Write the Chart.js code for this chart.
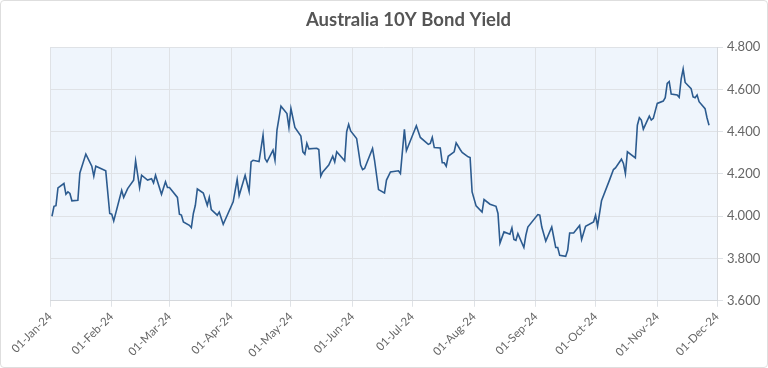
<!DOCTYPE html>
<html>
<head>
<meta charset="utf-8">
<title>Australia 10Y Bond Yield</title>
<script src="https://cdn.jsdelivr.net/npm/chart.js@4.4.1/dist/chart.umd.min.js"></script>
<style>
    html, body { margin: 0; padding: 0; background: #ffffff; }
    .frame {
        position: relative;
        width: 766px;
        height: 366px;
        border: 1px solid #dedede;
        border-radius: 4px;
    }
</style>
</head>
<body>
<div class="frame"><canvas id="yieldChart"></canvas></div>
<script>
// Daily closes
const dates = [
    '2024-01-02', '2024-01-03', '2024-01-04', '2024-01-05', '2024-01-08', '2024-01-09', '2024-01-10', '2024-01-11',
    '2024-01-12', '2024-01-15', '2024-01-16', '2024-01-19', '2024-01-22', '2024-01-23', '2024-01-24', '2024-01-29',
    '2024-01-31', '2024-02-01', '2024-02-02', '2024-02-06', '2024-02-07', '2024-02-09', '2024-02-12', '2024-02-13',
    '2024-02-15', '2024-02-16', '2024-02-19', '2024-02-21', '2024-02-22', '2024-02-23', '2024-02-26', '2024-02-28',
    '2024-02-29', '2024-03-01', '2024-03-05', '2024-03-06', '2024-03-07', '2024-03-08', '2024-03-11', '2024-03-12',
    '2024-03-13', '2024-03-14', '2024-03-15', '2024-03-18', '2024-03-20', '2024-03-21', '2024-03-22', '2024-03-25',
    '2024-03-26', '2024-03-28', '2024-04-02', '2024-04-04', '2024-04-05', '2024-04-08', '2024-04-10', '2024-04-11',
    '2024-04-12', '2024-04-15', '2024-04-17', '2024-04-18', '2024-04-19', '2024-04-22', '2024-04-23', '2024-04-24',
    '2024-04-26', '2024-04-29', '2024-04-30', '2024-05-01', '2024-05-03', '2024-05-06', '2024-05-07', '2024-05-08',
    '2024-05-09', '2024-05-10', '2024-05-14', '2024-05-15', '2024-05-16', '2024-05-17', '2024-05-20', '2024-05-22',
    '2024-05-23', '2024-05-24', '2024-05-28', '2024-05-29', '2024-05-30', '2024-05-31', '2024-06-03', '2024-06-05',
    '2024-06-06', '2024-06-07', '2024-06-11', '2024-06-12', '2024-06-14', '2024-06-17', '2024-06-18', '2024-06-20',
    '2024-06-24', '2024-06-25', '2024-06-27', '2024-06-28', '2024-07-03', '2024-07-05', '2024-07-09', '2024-07-10',
    '2024-07-11', '2024-07-12', '2024-07-15', '2024-07-16', '2024-07-17', '2024-07-18', '2024-07-19', '2024-07-22',
    '2024-07-23', '2024-07-25', '2024-07-26', '2024-07-29', '2024-07-30', '2024-07-31', '2024-08-02', '2024-08-05',
    '2024-08-06', '2024-08-09', '2024-08-12', '2024-08-13', '2024-08-14', '2024-08-16', '2024-08-19', '2024-08-20',
    '2024-08-21', '2024-08-22', '2024-08-23', '2024-08-26', '2024-08-27', '2024-08-28', '2024-09-02', '2024-09-03',
    '2024-09-04', '2024-09-06', '2024-09-09', '2024-09-11', '2024-09-12', '2024-09-13', '2024-09-16', '2024-09-17',
    '2024-09-18', '2024-09-20', '2024-09-23', '2024-09-24', '2024-09-26', '2024-09-30', '2024-10-01', '2024-10-02',
    '2024-10-04', '2024-10-08', '2024-10-10', '2024-10-11', '2024-10-14', '2024-10-15', '2024-10-16', '2024-10-17',
    '2024-10-21', '2024-10-22', '2024-10-23', '2024-10-24', '2024-10-25', '2024-10-28', '2024-10-29', '2024-10-30',
    '2024-11-01', '2024-11-04', '2024-11-05', '2024-11-06', '2024-11-07', '2024-11-08', '2024-11-11', '2024-11-12',
    '2024-11-13', '2024-11-14', '2024-11-15', '2024-11-18', '2024-11-19', '2024-11-20', '2024-11-21', '2024-11-22',
    '2024-11-25', '2024-11-26', '2024-11-27'
];

const yields = [
    4.000, 4.047, 4.050, 4.134, 4.155, 4.104, 4.115, 4.108,
    4.073, 4.076, 4.205, 4.294, 4.237, 4.190, 4.237, 4.215,
    4.013, 4.010, 3.978, 4.123, 4.089, 4.131, 4.171, 4.262,
    4.136, 4.194, 4.171, 4.178, 4.158, 4.194, 4.104, 4.163,
    4.136, 4.136, 4.089, 4.010, 4.006, 3.973, 3.957, 3.946,
    4.013, 4.052, 4.129, 4.110, 4.052, 4.089, 4.032, 4.005,
    4.020, 3.962, 4.068, 4.174, 4.098, 4.194, 4.118, 4.257,
    4.265, 4.259, 4.384, 4.273, 4.257, 4.313, 4.265, 4.408,
    4.521, 4.486, 4.420, 4.510, 4.420, 4.379, 4.305, 4.294,
    4.345, 4.319, 4.322, 4.316, 4.190, 4.210, 4.242, 4.284,
    4.257, 4.305, 4.262, 4.400, 4.435, 4.404, 4.368, 4.242,
    4.221, 4.226, 4.321, 4.265, 4.126, 4.110, 4.171, 4.210,
    4.215, 4.202, 4.411, 4.310, 4.428, 4.373, 4.340, 4.345,
    4.373, 4.325, 4.323, 4.253, 4.253, 4.237, 4.284, 4.305,
    4.347, 4.316, 4.302, 4.281, 4.278, 4.115, 4.049, 4.020,
    4.079, 4.057, 4.047, 4.013, 3.873, 3.926, 3.915, 3.945,
    3.890, 3.886, 3.918, 3.852, 3.910, 3.949, 4.008, 4.005,
    3.949, 3.882, 3.949, 3.852, 3.852, 3.815, 3.810, 3.839,
    3.921, 3.921, 3.956, 3.890, 3.953, 3.973, 4.005, 3.953,
    4.073, 4.171, 4.221, 4.229, 4.270, 4.250, 4.202, 4.305,
    4.276, 4.431, 4.466, 4.455, 4.412, 4.474, 4.455, 4.463,
    4.534, 4.545, 4.561, 4.629, 4.637, 4.578, 4.574, 4.563,
    4.649, 4.697, 4.633, 4.604, 4.565, 4.561, 4.574, 4.542,
    4.509, 4.465, 4.431
];

const monthTicks = [
    '2024-01-01', '2024-02-01', '2024-03-01', '2024-04-01', '2024-05-01', '2024-06-01',
    '2024-07-01', '2024-08-01', '2024-09-01', '2024-10-01', '2024-11-01', '2024-12-01'
];

const yMin = 3.6;
const yMax = 4.8;
const yStep = 0.2;

const MONTHS = ['Jan', 'Feb', 'Mar', 'Apr', 'May', 'Jun', 'Jul', 'Aug', 'Sep', 'Oct', 'Nov', 'Dec'];

function toTime(s) {
    return Date.parse(s + 'T00:00:00Z');
}

function formatDate(ms) {
    const d = new Date(ms);
    const day = String(d.getUTCDate()).padStart(2, '0');
    return day + '-' + MONTHS[d.getUTCMonth()] + '-' + String(d.getUTCFullYear()).slice(2);
}

// light blue fill behind the plot area
const plotBackground = {
    id: 'plotBackground',
    beforeDraw(chart) {
        const { ctx, chartArea } = chart;
        ctx.save();
        ctx.fillStyle = '#eff5fc';
        ctx.fillRect(chartArea.left, chartArea.top, chartArea.right - chartArea.left, chartArea.bottom - chartArea.top);
        ctx.restore();
    }
};

const ctx = document.getElementById('yieldChart').getContext('2d');

const yieldChart = new Chart(ctx, {
    type: 'line',
    data: {
        datasets: [{
            label: 'Australia 10Y',
            data: dates.map((d, i) => ({ x: toTime(d), y: yields[i] })),
            borderColor: '#2c5b8f',
            borderWidth: 1.6,
            pointRadius: 0,
            tension: 0,
            fill: false
        }]
    },
    options: {
        responsive: true,
        maintainAspectRatio: false,
        animation: false,
        layout: {
            padding: { top: 0, right: 0, bottom: 4, left: 49 }
        },
        plugins: {
            legend: { display: false },
            tooltip: { enabled: false },
            title: {
                display: true,
                text: 'Australia 10Y Bond Yield',
                color: '#555555',
                font: { family: 'Lato', size: 18.5, weight: 'bold' },
                padding: { top: 8, bottom: 16 }
            }
        },
        scales: {
            x: {
                type: 'linear',
                min: toTime(monthTicks[0]),
                max: toTime(monthTicks[monthTicks.length - 1]),
                afterBuildTicks: scale => {
                    scale.ticks = monthTicks.map(s => ({ value: toTime(s) }));
                },
                grid: {
                    color: '#dfe2e6',
                    tickLength: 6
                },
                border: { color: '#d5d8dc' },
                ticks: {
                    autoSkip: false,
                    maxRotation: 45,
                    minRotation: 45,
                    color: '#666666',
                    font: { family: 'Lato', size: 11.5 },
                    callback: value => formatDate(value)
                }
            },
            y: {
                position: 'right',
                min: yMin,
                max: yMax,
                afterFit: scale => { scale.width = 50; },
                grid: {
                    color: '#dfe2e6',
                    tickLength: 6
                },
                border: { color: '#d5d8dc' },
                ticks: {
                    stepSize: yStep,
                    color: '#666666',
                    padding: 4,
                    font: { family: 'Lato', size: 13 },
                    callback: value => value.toFixed(3)
                }
            }
        }
    },
    plugins: [plotBackground]
});
</script>
</body>
</html>
